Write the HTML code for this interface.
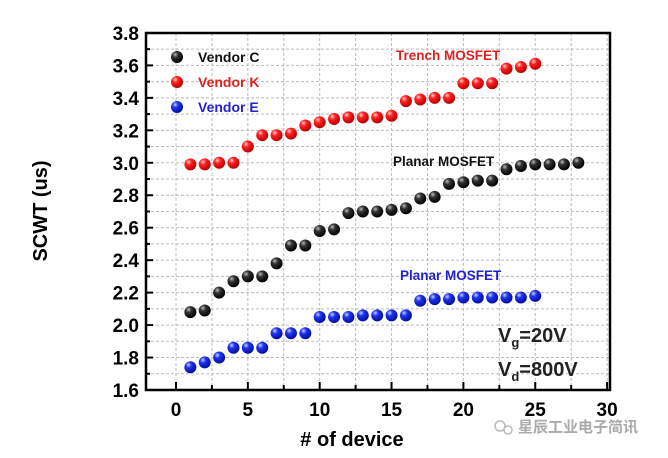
<!DOCTYPE html>
<html><head><meta charset="utf-8"><style>
body{margin:0;background:#fff;}
svg text{font-family:"Liberation Sans",Arial,sans-serif;font-weight:bold;}
</style></head><body>
<svg id="s" width="668" height="453" xmlns="http://www.w3.org/2000/svg">
<defs>
<radialGradient id="gk" cx="0.35" cy="0.3" r="0.7"><stop offset="0" stop-color="#bbb"/><stop offset="0.35" stop-color="#333"/><stop offset="1" stop-color="#000"/></radialGradient>
<radialGradient id="gr" cx="0.35" cy="0.3" r="0.7"><stop offset="0" stop-color="#ffd0d0"/><stop offset="0.35" stop-color="#f22"/><stop offset="1" stop-color="#b00"/></radialGradient>
<radialGradient id="gb" cx="0.35" cy="0.3" r="0.7"><stop offset="0" stop-color="#c8d0ff"/><stop offset="0.35" stop-color="#2233ee"/><stop offset="1" stop-color="#0010a0"/></radialGradient>
</defs>
<g id="grid" stroke="#bbb" stroke-width="1" stroke-dasharray="3,2"></g>
<g id="pts"></g>
<rect x="146" y="33" width="464" height="357" fill="none" stroke="#000" stroke-width="2.5"/>
<g id="ax" font-size="19"></g>
<text x="40" y="211" font-size="20" transform="rotate(-90 40 211)" text-anchor="middle" dy="7">SCWT (us)</text>
<text x="352" y="446" font-size="20" text-anchor="middle"># of device</text>
<circle cx="177" cy="57" r="6" fill="url(#gk)"/><text x="198" y="62" font-size="14" fill="#111">Vendor C</text>
<circle cx="177" cy="82" r="6" fill="url(#gr)"/><text x="198" y="87" font-size="14" fill="#d22">Vendor K</text>
<circle cx="177" cy="107" r="6" fill="url(#gb)"/><text x="198" y="112" font-size="14" fill="#22c">Vendor E</text>
<text x="396" y="60" font-size="13.5" fill="#d22">Trench MOSFET</text>
<text x="393" y="166" font-size="13.5" fill="#111">Planar MOSFET</text>
<text x="400" y="280" font-size="13.5" fill="#22c">Planar MOSFET</text>
<text x="498" y="342" font-size="20" fill="#222">V<tspan font-size="13" dy="5">g</tspan><tspan dy="-5">=20V</tspan></text>
<text x="498" y="376" font-size="20" fill="#222">V<tspan font-size="13" dy="5">d</tspan><tspan dy="-5">=800V</tspan></text>
<circle cx="500" cy="426" r="5" fill="none" stroke="#bbb" stroke-width="1.5"/>
<circle cx="508" cy="430" r="4" fill="none" stroke="#bbb" stroke-width="1.5"/>
<text x="518" y="432" font-size="15" fill="#aaa" font-weight="normal" style="font-family:'Liberation Sans','Noto Sans CJK SC',sans-serif">星辰工业电子简讯</text>
</svg>
<script>
var X=function(v){return 176+v*14.37},Y=function(v){return 390-(v-1.6)*162.3};
var ns="http://www.w3.org/2000/svg";
function el(p,t,a,txt){var e=document.createElementNS(ns,t);for(var k in a)e.setAttribute(k,a[k]);if(txt)e.textContent=txt;p.appendChild(e);}
var g=document.getElementById('grid'),ax=document.getElementById('ax'),pts=document.getElementById('pts');
for(var i=0;i<=12;i++){var x=X(i*2.5);el(g,'line',{x1:x,x2:x,y1:33,y2:390});
 el(ax,'line',{x1:x,x2:x,y1:390,y2:i%2?385:382,stroke:'#000','stroke-width':2});
 if(i%2==0)el(ax,'text',{x:x,y:416,'text-anchor':'middle'},String(i*2.5));}
for(var j=0;j<=22;j++){var v=1.6+j*0.1,y=Y(v);el(g,'line',{x1:146,x2:610,y1:y,y2:y});
 el(ax,'line',{x1:146,x2:j%2?150:153,y1:y,y2:y,stroke:'#000','stroke-width':2});
 if(j%2==0)el(ax,'text',{x:139,y:y+7,'text-anchor':'end'},v.toFixed(1));}
var C=[2.08,2.09,2.20,2.27,2.30,2.30,2.38,2.49,2.49,2.58,2.59,2.69,2.70,2.70,2.71,2.72,2.78,2.79,2.87,2.88,2.89,2.89,2.96,2.98,2.99,2.99,2.99,3.00];
var K=[2.99,2.99,3.00,3.00,3.10,3.17,3.17,3.18,3.23,3.25,3.27,3.28,3.28,3.28,3.29,3.38,3.39,3.40,3.40,3.49,3.49,3.49,3.58,3.59,3.61];
var E=[1.74,1.77,1.80,1.86,1.86,1.86,1.95,1.95,1.95,2.05,2.05,2.05,2.06,2.06,2.06,2.06,2.15,2.16,2.16,2.17,2.17,2.17,2.17,2.17,2.18];
[[C,'gk'],[K,'gr'],[E,'gb']].forEach(function(s){s[0].forEach(function(v,i){el(pts,'circle',{cx:X(i+1),cy:Y(v),r:6,fill:'url(#'+s[1]+')'});});});
</script>
</body></html>
